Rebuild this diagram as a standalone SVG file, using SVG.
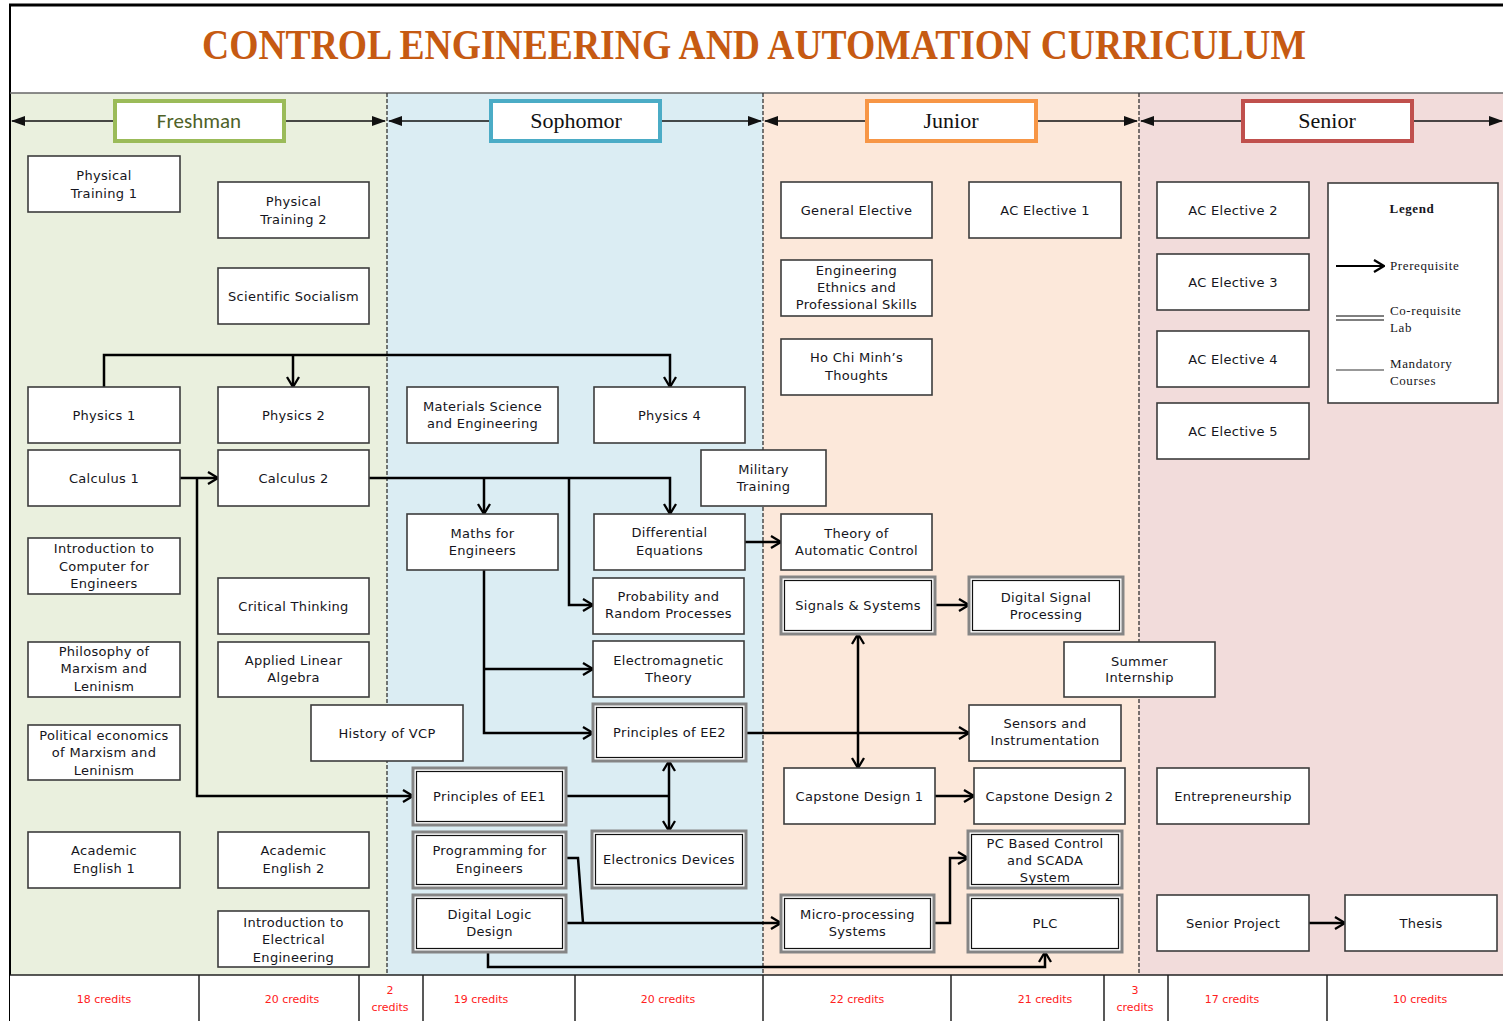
<svg xmlns="http://www.w3.org/2000/svg" width="1503" height="1021" viewBox="0 0 1503 1021">
  <defs>
    <style>
      .n rect { fill: #ffffff; stroke: #3c3c3c; stroke-width: 1.6; }
      .d rect.o { fill: #ffffff; stroke: #858585; stroke-width: 3; }
      .d rect.i { fill: none; stroke: #111111; stroke-width: 1.2; }
      .t { font-family: "DejaVu Sans", Verdana, sans-serif; font-size: 13px; letter-spacing: 0.3px; fill: #151520; text-anchor: middle; }
      .cr { font-family: "DejaVu Sans", Verdana, sans-serif; font-size: 11px; fill: #ff2020; text-anchor: middle; }
      .lg { font-family: "Liberation Serif", "Times New Roman", serif; font-size: 13px; fill: #151520; letter-spacing: 0.6px; }
      .yr { font-family: "Liberation Serif", "Times New Roman", serif; font-size: 22px; fill: #111111; text-anchor: middle; }
      .conn path { fill: none; stroke: #000000; stroke-width: 2.5; }
      .hdr line { stroke: #111111; stroke-width: 1.5; }
      .sep { stroke: #222222; stroke-width: 1.5; }
      .dash { stroke: #333333; stroke-width: 1.3; stroke-dasharray: 4 2; }
    </style>
    <marker id="chev" viewBox="0 0 12 14" refX="11" refY="7" markerWidth="12" markerHeight="14" markerUnits="userSpaceOnUse" orient="auto-start-reverse">
      <path d="M1,1 L11,7 L1,13" fill="none" stroke="#000" stroke-width="2.3"/>
    </marker>
    <marker id="tri" viewBox="0 0 14 10" refX="13" refY="5" markerWidth="14" markerHeight="10" markerUnits="userSpaceOnUse" orient="auto-start-reverse">
      <path d="M0,0 L14,5 L0,10 Z" fill="#111"/>
    </marker>
  </defs>

  <!-- page -->
  <rect x="0" y="0" width="1503" height="1021" fill="#ffffff"/>

  <!-- year bands -->
  <rect x="10" y="93" width="377" height="882" fill="#EAF0DE"/>
  <rect x="387" y="93" width="376" height="882" fill="#DBEDF3"/>
  <rect x="763" y="93" width="376" height="882" fill="#FCE8DA"/>
  <rect x="1139" y="93" width="364" height="882" fill="#F2DCDB"/>

  <!-- frame -->
  <line x1="9" y1="5" x2="1503" y2="5" stroke="#000" stroke-width="3"/>
  <line x1="10" y1="4" x2="10" y2="1021" stroke="#000" stroke-width="2"/>
  <line x1="10" y1="93" x2="1503" y2="93" stroke="#666" stroke-width="1.5"/>
  <line class="dash" x1="387" y1="93" x2="387" y2="975"/>
  <line class="dash" x1="763" y1="93" x2="763" y2="975"/>
  <line class="dash" x1="1139" y1="93" x2="1139" y2="975"/>

  <!-- title -->
  <text x="754" y="59" text-anchor="middle" font-family="Liberation Serif, Times New Roman, serif" font-weight="bold" font-size="43" fill="#C65A12" textLength="1104" lengthAdjust="spacingAndGlyphs">CONTROL ENGINEERING AND AUTOMATION CURRICULUM</text>

  <!-- year headers -->
  <g class="hdr">
    <line x1="12" y1="121" x2="385" y2="121" marker-start="url(#tri)" marker-end="url(#tri)"/>
    <line x1="389" y1="121" x2="761" y2="121" marker-start="url(#tri)" marker-end="url(#tri)"/>
    <line x1="765" y1="121" x2="1137" y2="121" marker-start="url(#tri)" marker-end="url(#tri)"/>
    <line x1="1141" y1="121" x2="1502" y2="121" marker-start="url(#tri)" marker-end="url(#tri)"/>
  </g>
  <g id="year-freshman">
    <rect x="115" y="101" width="169" height="40" fill="#fff" stroke="#9BBB59" stroke-width="4"/>
    <text x="199" y="128" text-anchor="middle" font-family="Carlito, Lato, sans-serif" font-size="21" fill="#4F6228">Freshman</text>
  </g>
  <g id="year-sophomore">
    <rect x="491" y="101" width="169" height="40" fill="#fff" stroke="#4BACC6" stroke-width="4"/>
    <text class="yr" x="576" y="128">Sophomor</text>
  </g>
  <g id="year-junior">
    <rect x="867" y="101" width="169" height="40" fill="#fff" stroke="#F79646" stroke-width="4"/>
    <text class="yr" x="951" y="128">Junior</text>
  </g>
  <g id="year-senior">
    <rect x="1243" y="101" width="169" height="40" fill="#fff" stroke="#C0504D" stroke-width="4"/>
    <text class="yr" x="1327" y="128">Senior</text>
  </g>

  <!-- connectors -->
  <g id="connectors" class="conn">
    <path d="M104,387 V355 H670 V387" marker-end="url(#chev)"/>
    <path d="M293,355 V387" marker-end="url(#chev)"/>
    <path d="M180,478 H218" marker-end="url(#chev)"/>
    <path d="M197,478 V796 H413" marker-end="url(#chev)"/>
    <path d="M369,478 H670 V514" marker-end="url(#chev)"/>
    <path d="M484,478 V514" marker-end="url(#chev)"/>
    <path d="M569,478 V605 H593" marker-end="url(#chev)"/>
    <path d="M484,570 V733 H593" marker-end="url(#chev)"/>
    <path d="M484,669 H593" marker-end="url(#chev)"/>
    <path d="M745,542 H781" marker-end="url(#chev)"/>
    <path d="M746,733 H969" marker-end="url(#chev)"/>
    <path d="M858,634 V768" marker-start="url(#chev)" marker-end="url(#chev)"/>
    <path d="M935,605 H969" marker-end="url(#chev)"/>
    <path d="M566,796 H669"/>
    <path d="M669,761 V831" marker-start="url(#chev)" marker-end="url(#chev)"/>
    <path d="M935,796 H974" marker-end="url(#chev)"/>
    <path d="M566,858 H578 L583,923"/>
    <path d="M566,923 H781" marker-end="url(#chev)"/>
    <path d="M934,923 H950 V858 H968" marker-end="url(#chev)"/>
    <path d="M488,952 V967 H1045 V952" marker-end="url(#chev)"/>
    <path d="M1309,923 H1345" marker-end="url(#chev)"/>
  </g>

  <!-- Freshman courses -->
  <g id="physical-training-1" class="n"><rect x="28" y="156" width="152" height="56"/><text class="t" x="104" y="179.5">Physical</text><text class="t" x="104" y="197.5">Training 1</text></g>
  <g id="physical-training-2" class="n"><rect x="218" y="182" width="151" height="56"/><text class="t" x="293.5" y="205.5">Physical</text><text class="t" x="293.5" y="223.5">Training 2</text></g>
  <g id="scientific-socialism" class="n"><rect x="218" y="268" width="151" height="56"/><text class="t" x="293.5" y="300.5">Scientific Socialism</text></g>
  <g id="physics-1" class="n"><rect x="28" y="387" width="152" height="56"/><text class="t" x="104" y="419.5">Physics 1</text></g>
  <g id="physics-2" class="n"><rect x="218" y="387" width="151" height="56"/><text class="t" x="293.5" y="419.5">Physics 2</text></g>
  <g id="calculus-1" class="n"><rect x="28" y="450" width="152" height="56"/><text class="t" x="104" y="482.5">Calculus 1</text></g>
  <g id="calculus-2" class="n"><rect x="218" y="450" width="151" height="56"/><text class="t" x="293.5" y="482.5">Calculus 2</text></g>
  <g id="intro-computer" class="n"><rect x="28" y="538" width="152" height="56"/><text class="t" x="104" y="553">Introduction to</text><text class="t" x="104" y="570.5">Computer for</text><text class="t" x="104" y="588">Engineers</text></g>
  <g id="critical-thinking" class="n"><rect x="218" y="578" width="151" height="56"/><text class="t" x="293.5" y="610.5">Critical Thinking</text></g>
  <g id="philosophy" class="n"><rect x="28" y="642" width="152" height="55"/><text class="t" x="104" y="655.5">Philosophy of</text><text class="t" x="104" y="673">Marxism and</text><text class="t" x="104" y="690.5">Leninism</text></g>
  <g id="applied-linear-algebra" class="n"><rect x="218" y="642" width="151" height="55"/><text class="t" x="293.5" y="664.5">Applied Linear</text><text class="t" x="293.5" y="681.5">Algebra</text></g>
  <g id="history-vcp" class="n"><rect x="311" y="705" width="152" height="56"/><text class="t" x="387" y="737.5">History of VCP</text></g>
  <g id="political-economics" class="n"><rect x="28" y="725" width="152" height="55"/><text class="t" x="104" y="739.5">Political economics</text><text class="t" x="104" y="757">of Marxism and</text><text class="t" x="104" y="774.5">Leninism</text></g>
  <g id="academic-english-1" class="n"><rect x="28" y="832" width="152" height="56"/><text class="t" x="104" y="854.5">Academic</text><text class="t" x="104" y="872.5">English 1</text></g>
  <g id="academic-english-2" class="n"><rect x="218" y="832" width="151" height="56"/><text class="t" x="293.5" y="854.5">Academic</text><text class="t" x="293.5" y="872.5">English 2</text></g>
  <g id="intro-ee" class="n"><rect x="218" y="911" width="151" height="56"/><text class="t" x="293.5" y="926.5">Introduction to</text><text class="t" x="293.5" y="943.5">Electrical</text><text class="t" x="293.5" y="961.5">Engineering</text></g>

  <!-- Sophomore courses -->
  <g id="materials-science" class="n"><rect x="407" y="387" width="151" height="56"/><text class="t" x="482.5" y="410.5">Materials Science</text><text class="t" x="482.5" y="427.5">and Engineering</text></g>
  <g id="physics-4" class="n"><rect x="594" y="387" width="151" height="56"/><text class="t" x="669.5" y="419.5">Physics 4</text></g>
  <g id="military-training" class="n"><rect x="701" y="450" width="125" height="56"/><text class="t" x="763.5" y="473.5">Military</text><text class="t" x="763.5" y="490.5">Training</text></g>
  <g id="maths-engineers" class="n"><rect x="407" y="514" width="151" height="56"/><text class="t" x="482.5" y="537.5">Maths for</text><text class="t" x="482.5" y="554.5">Engineers</text></g>
  <g id="differential-equations" class="n"><rect x="594" y="514" width="151" height="56"/><text class="t" x="669.5" y="536.5">Differential</text><text class="t" x="669.5" y="555">Equations</text></g>
  <g id="probability" class="n"><rect x="593" y="578" width="151" height="56"/><text class="t" x="668.5" y="600.5">Probability and</text><text class="t" x="668.5" y="617.5">Random Processes</text></g>
  <g id="electromagnetic" class="n"><rect x="593" y="641" width="151" height="56"/><text class="t" x="668.5" y="665">Electromagnetic</text><text class="t" x="668.5" y="681.5">Theory</text></g>
  <g id="principles-ee2" class="d"><rect class="o" x="593" y="704" width="153" height="57"/><rect class="i" x="596.5" y="707.5" width="146" height="50"/><text class="t" x="669.5" y="737">Principles of EE2</text></g>
  <g id="principles-ee1" class="d"><rect class="o" x="413" y="768" width="153" height="57"/><rect class="i" x="416.5" y="771.5" width="146" height="50"/><text class="t" x="489.5" y="800.5">Principles of EE1</text></g>
  <g id="programming" class="d"><rect class="o" x="413" y="832" width="153" height="56"/><rect class="i" x="416.5" y="835.5" width="146" height="49"/><text class="t" x="489.5" y="854.5">Programming for</text><text class="t" x="489.5" y="872.5">Engineers</text></g>
  <g id="electronics-devices" class="d"><rect class="o" x="592" y="831" width="154" height="57"/><rect class="i" x="595.5" y="834.5" width="147" height="50"/><text class="t" x="669" y="864">Electronics Devices</text></g>
  <g id="digital-logic" class="d"><rect class="o" x="413" y="895" width="153" height="57"/><rect class="i" x="416.5" y="898.5" width="146" height="50"/><text class="t" x="489.5" y="918.5">Digital Logic</text><text class="t" x="489.5" y="935.5">Design</text></g>

  <!-- Junior courses -->
  <g id="general-elective" class="n"><rect x="781" y="182" width="151" height="56"/><text class="t" x="856.5" y="214.5">General Elective</text></g>
  <g id="ac-elective-1" class="n"><rect x="969" y="182" width="152" height="56"/><text class="t" x="1045" y="214.5">AC Elective 1</text></g>
  <g id="engineering-ethics" class="n"><rect x="781" y="260" width="151" height="56"/><text class="t" x="856.5" y="274.5">Engineering</text><text class="t" x="856.5" y="291.5">Ethnics and</text><text class="t" x="856.5" y="308.5">Professional Skills</text></g>
  <g id="ho-chi-minh" class="n"><rect x="781" y="339" width="151" height="56"/><text class="t" x="856.5" y="361.5">Ho Chi Minh’s</text><text class="t" x="856.5" y="379.5">Thoughts</text></g>
  <g id="automatic-control" class="n"><rect x="781" y="514" width="151" height="56"/><text class="t" x="856.5" y="537.5">Theory of</text><text class="t" x="856.5" y="554.5">Automatic Control</text></g>
  <g id="signals-systems" class="d"><rect class="o" x="781" y="577" width="154" height="57"/><rect class="i" x="784.5" y="580.5" width="147" height="50"/><text class="t" x="858" y="610">Signals &amp; Systems</text></g>
  <g id="dsp" class="d"><rect class="o" x="969" y="577" width="154" height="57"/><rect class="i" x="972.5" y="580.5" width="147" height="50"/><text class="t" x="1046" y="601.5">Digital Signal</text><text class="t" x="1046" y="618.5">Processing</text></g>
  <g id="summer-internship" class="n"><rect x="1064" y="642" width="151" height="55"/><text class="t" x="1139.5" y="665.5">Summer</text><text class="t" x="1139.5" y="681.5">Internship</text></g>
  <g id="sensors" class="n"><rect x="969" y="705" width="152" height="56"/><text class="t" x="1045" y="727.5">Sensors and</text><text class="t" x="1045" y="744.5">Instrumentation</text></g>
  <g id="capstone-1" class="n"><rect x="784" y="768" width="151" height="56"/><text class="t" x="859.5" y="800.5">Capstone Design 1</text></g>
  <g id="capstone-2" class="n"><rect x="974" y="768" width="151" height="56"/><text class="t" x="1049.5" y="800.5">Capstone Design 2</text></g>
  <g id="pc-scada" class="d"><rect class="o" x="968" y="831" width="154" height="57"/><rect class="i" x="971.5" y="834.5" width="147" height="50"/><text class="t" x="1045" y="847.5">PC Based Control</text><text class="t" x="1045" y="864.5">and SCADA</text><text class="t" x="1045" y="881.5">System</text></g>
  <g id="microprocessing" class="d"><rect class="o" x="781" y="895" width="153" height="57"/><rect class="i" x="784.5" y="898.5" width="146" height="50"/><text class="t" x="857.5" y="918.5">Micro-processing</text><text class="t" x="857.5" y="935.5">Systems</text></g>
  <g id="plc" class="d"><rect class="o" x="968" y="895" width="154" height="57"/><rect class="i" x="971.5" y="898.5" width="147" height="50"/><text class="t" x="1045" y="928">PLC</text></g>

  <!-- Senior courses -->
  <g id="ac-elective-2" class="n"><rect x="1157" y="182" width="152" height="56"/><text class="t" x="1233" y="214.5">AC Elective 2</text></g>
  <g id="ac-elective-3" class="n"><rect x="1157" y="254" width="152" height="56"/><text class="t" x="1233" y="286.5">AC Elective 3</text></g>
  <g id="ac-elective-4" class="n"><rect x="1157" y="331" width="152" height="56"/><text class="t" x="1233" y="363.5">AC Elective 4</text></g>
  <g id="ac-elective-5" class="n"><rect x="1157" y="403" width="152" height="56"/><text class="t" x="1233" y="435.5">AC Elective 5</text></g>
  <g id="entrepreneurship" class="n"><rect x="1157" y="768" width="152" height="56"/><text class="t" x="1233" y="800.5">Entrepreneurship</text></g>
  <g id="senior-project" class="n"><rect x="1157" y="895" width="152" height="56"/><text class="t" x="1233" y="927.5">Senior Project</text></g>
  <g id="thesis" class="n"><rect x="1345" y="895" width="152" height="56"/><text class="t" x="1421" y="927.5">Thesis</text></g>

  <!-- legend -->
  <g id="legend">
    <rect x="1328" y="183" width="170" height="220" fill="#fff" stroke="#3c3c3c" stroke-width="1.6"/>
    <text class="lg" x="1412" y="213" text-anchor="middle" font-weight="bold">Legend</text>
    <path d="M1336,266 H1384" fill="none" stroke="#000" stroke-width="2.2" marker-end="url(#chev)"/>
    <text class="lg" x="1390" y="270">Prerequisite</text>
    <line x1="1336" y1="316" x2="1384" y2="316" stroke="#555" stroke-width="1.5"/>
    <line x1="1336" y1="320" x2="1384" y2="320" stroke="#555" stroke-width="1.5"/>
    <text class="lg" x="1390" y="315">Co-requisite</text>
    <text class="lg" x="1390" y="332">Lab</text>
    <line x1="1336" y1="370" x2="1384" y2="370" stroke="#333" stroke-width="1.2"/>
    <text class="lg" x="1390" y="368">Mandatory</text>
    <text class="lg" x="1390" y="385">Courses</text>
  </g>

  <!-- credits row -->
  <g id="credits">
    <rect x="10" y="975" width="1493" height="46" fill="#fff"/>
    <line class="sep" x1="10" y1="975" x2="1503" y2="975"/>
    <line class="sep" x1="199" y1="975" x2="199" y2="1021"/>
    <line class="sep" x1="359" y1="975" x2="359" y2="1021"/>
    <line class="sep" x1="423" y1="975" x2="423" y2="1021"/>
    <line class="sep" x1="575" y1="975" x2="575" y2="1021"/>
    <line class="sep" x1="763" y1="975" x2="763" y2="1021"/>
    <line class="sep" x1="951" y1="975" x2="951" y2="1021"/>
    <line class="sep" x1="1104" y1="975" x2="1104" y2="1021"/>
    <line class="sep" x1="1168" y1="975" x2="1168" y2="1021"/>
    <line class="sep" x1="1327" y1="975" x2="1327" y2="1021"/>
    <text class="cr" x="104" y="1003">18 credits</text>
    <text class="cr" x="292" y="1003">20 credits</text>
    <text class="cr" x="390" y="994">2</text>
    <text class="cr" x="390" y="1011">credits</text>
    <text class="cr" x="481" y="1003">19 credits</text>
    <text class="cr" x="668" y="1003">20 credits</text>
    <text class="cr" x="857" y="1003">22 credits</text>
    <text class="cr" x="1045" y="1003">21 credits</text>
    <text class="cr" x="1135" y="994">3</text>
    <text class="cr" x="1135" y="1011">credits</text>
    <text class="cr" x="1232" y="1003">17 credits</text>
    <text class="cr" x="1420" y="1003">10 credits</text>
  </g>
</svg>
